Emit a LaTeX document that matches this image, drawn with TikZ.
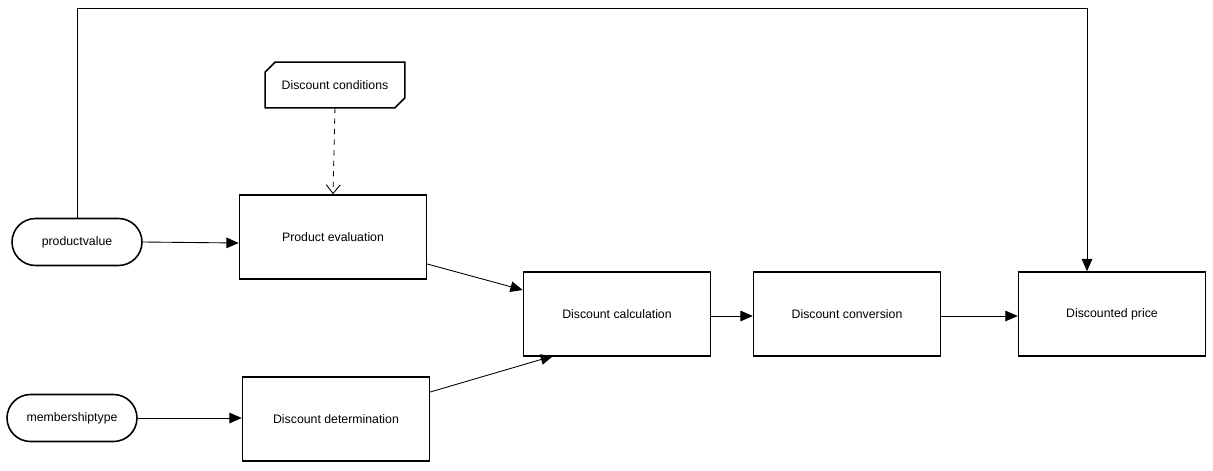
\documentclass[tikz,border=0pt]{standalone}
\usepackage{fontspec}
\setmainfont{Liberation Sans}
\usetikzlibrary{arrows.meta}

\tikzset{
  stepbox/.style={draw, line width=0.9pt, minimum width=3.74cm, minimum height=1.68cm, inner sep=0pt},
  terminal/.style={draw, line width=0.9pt, rounded corners=0.47cm, minimum width=2.6cm, minimum height=0.94cm, inner sep=0pt},
  flow/.style={line width=0.5pt, -{Triangle[length=7pt,width=6pt]}},
  feed/.style={line width=0.5pt, dashed, -{Straight Barb[length=5pt,width=8pt]}}
}

\begin{document}
\begin{tikzpicture}[x=0.02cm, y=-0.02cm, font=\fontsize{7}{8.4}\selectfont]
  \useasboundingbox (0,0) rectangle (1213,470);

  % inputs
  \node[terminal] (prodval) at (77,242) {productvalue};
  \node[terminal] (member) at (72,418) {membershiptype};

  % data store
  \node[minimum width=2.78cm, minimum height=0.9cm, inner sep=0pt] (cond) at (335,85) {Discount conditions};
  \draw[line width=0.9pt] ([xshift=0.2cm]cond.north west) -- (cond.north east)
    -- ([yshift=0.2cm]cond.south east) -- ([xshift=-0.2cm]cond.south east)
    -- (cond.south west) -- ([yshift=-0.2cm]cond.north west) -- cycle;

  % steps
  \node[stepbox] (prodeval) at (333,237) {Product evaluation};
  \node[stepbox] (determ) at (336,419) {Discount determination};
  \node[stepbox] (calc) at (617,314) {Discount calculation};
  \node[stepbox] (conv) at (847,314) {Discount conversion};
  \node[stepbox] (price) at (1112,314) {Discounted price};

  % connectors
  \coordinate (topL) at (77,8);
  \coordinate (topR) at (1087,8);
  \draw[flow] (prodval.north) -- (topL) -- (topR) -- (price.north -| topR);
  \draw[flow] (prodval.east) -- (prodeval.west |- 0,243);
  \draw[flow] (member.east) -- (determ.west |- member.east);
  \draw[feed] (cond.south) -- (prodeval.north);
  \draw[flow] (prodeval.east |- 0,264) -- (calc.west |- 0,290);
  \draw[flow] (determ.east |- 0,392) -- (553,356);
  \draw[flow] (calc.east |- 0,316) -- (conv.west |- 0,316);
  \draw[flow] (conv.east |- 0,316) -- (price.west |- 0,316);
\end{tikzpicture}
\end{document}
